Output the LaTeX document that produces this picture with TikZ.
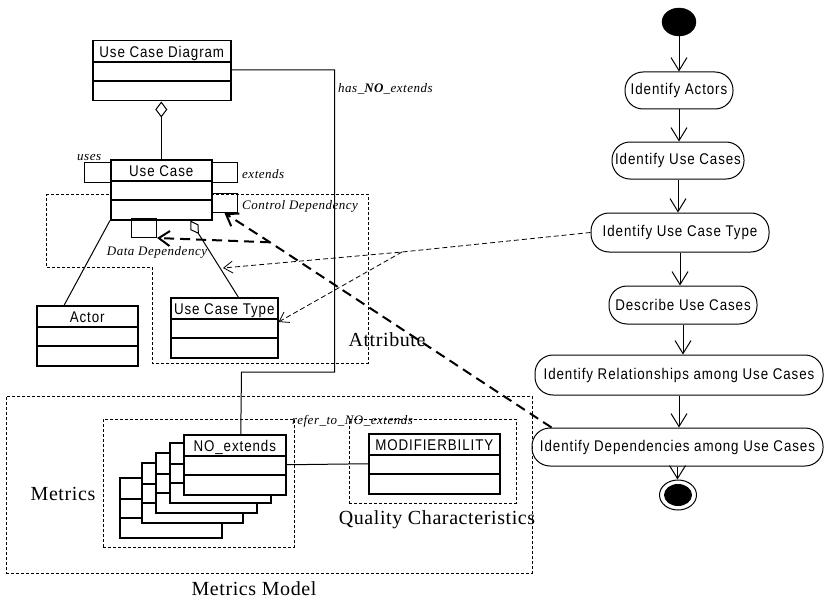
\documentclass[tikz,border=0pt]{standalone}
\usepackage{fontspec}
\setmainfont{Liberation Serif}
\newfontfamily\gothic[FakeStretch=0.86, LetterSpace=6]{Liberation Sans}
\newfontfamily\lblfont[LetterSpace=4]{Liberation Serif}
\newfontfamily\bigfont[LetterSpace=3]{Liberation Serif}
\usetikzlibrary{arrows.meta,shapes.geometric}

\tikzset{
  cls/.style={draw, line width=1.5pt, fill=white, rectangle, inner sep=0pt, anchor=north west},
  sep/.style={line width=1.2pt},
  cname/.style={font=\gothic\fontsize{15.5}{17}\selectfont, inner sep=0pt},
  lbl/.style={font=\lblfont\itshape\fontsize{13}{15}\selectfont, inner sep=0pt},
  big/.style={font=\bigfont\fontsize{20}{22}\selectfont, inner sep=0pt},
  region/.style={draw, dash pattern=on 3pt off 2pt, line width=0.8pt},
  regionbox/.style={region, rectangle, inner sep=0pt, anchor=north west},
  loopbox/.style={draw, line width=1pt, rectangle, inner sep=0pt, anchor=north west},
  act/.style={draw, line width=1pt, rectangle, rounded corners=18pt, minimum height=38pt,
              inner sep=0pt, font=\gothic\fontsize{15.5}{17}\selectfont},
  flow/.style={line width=1pt, -{Straight Barb[length=13pt,width=16pt]}},
  assoc/.style={line width=1pt},
  thinarrow/.style={line width=0.8pt, dash pattern=on 5pt off 3pt,
                    -{Straight Barb[length=9pt,width=12pt]}},
  thickarrow/.style={line width=2pt, dash pattern=on 10pt off 6pt,
                     -{Straight Barb[length=11pt,width=15pt]}},
}

% class box: name, left, top, width, class name
\newcommand\umlclass[5]{%
  \node[cls, minimum width=#4pt, minimum height=60pt] (#1) at (#2,#3) {};
  \draw[sep] ([yshift=-22pt]#1.north west) -- ([yshift=-22pt]#1.north east);
  \draw[sep] ([yshift=-41pt]#1.north west) -- ([yshift=-41pt]#1.north east);
  \node[cname, anchor=base] (#1-title) at ([yshift=-17.5pt]#1.north) {#5};
}

\begin{document}
\begin{tikzpicture}[x=1pt, y=-1pt]
\useasboundingbox (0,0) rectangle (824,599);

% ---------- dashed groupings ----------
\draw[region] (46,194) -- (368,194) -- (368,363) -- (152,363) -- (152,267) -- (46,267) -- cycle;
\node[regionbox, minimum width=526pt, minimum height=177pt] (mmodel) at (6,396) {};
\node[regionbox, minimum width=191pt, minimum height=128pt] (mgroup) at (103,419) {};
\node[regionbox, minimum width=167pt, minimum height=84pt] (qgroup) at (349,419) {};

\node[big] (attrlbl) at (387,340) {Attribute};
\node[big] (metlbl) at (63,494) {Metrics};
\node[big] (qlbl) at (437,520) {Quality Characteristics};
\node[big] (mmlbl) at (254,589) {Metrics Model};

% ---------- use case meta-model ----------
\umlclass{ucd}{92}{40}{138}{Use Case Diagram}
\umlclass{uc}{110}{159}{101}{Use Case}
\umlclass{actor}{36}{305}{101}{Actor}
\umlclass{uct}{170}{297}{107}{Use Case Type}

% self associations of Use Case
\node[loopbox, minimum width=26pt, minimum height=20pt] (uses) at (84,162) {};
\node[loopbox, minimum width=26pt, minimum height=20pt] (ext) at (211,162) {};
\node[loopbox, minimum width=26pt, minimum height=19pt] (ctrl) at (211,193) {};
\node[loopbox, minimum width=25pt, minimum height=19pt] (data) at (131,218) {};

\node[lbl, anchor=base west] (useslbl) at (77,160) {uses};
\node[lbl, anchor=west] (extlbl) at (242,174) {extends};
\node[lbl, anchor=west] (ctrllbl) at (242,206) {Control Dependency};
\node[lbl] (datalbl) at (157,252) {Data Dependency};

% associations
\draw[assoc, -{Diamond[open,length=16pt,width=12pt]}] (uc.north) -- (uc.north |- ucd.south);
\draw[assoc, -{Diamond[open,length=16pt,width=10pt]}] ([xshift=14pt]uct.north) -- ([xshift=29pt]uc.south);
\draw[assoc] (uc.south west) -- ([xshift=-23pt]actor.north);

% ---------- metrics model ----------
\umlclass{m4}{119}{477}{102}{}
\umlclass{m3}{141}{462}{101}{}
\umlclass{m2}{155}{452}{101}{}
\umlclass{m1}{169}{442}{101}{}
\umlclass{noext}{183}{434}{102}{NO\_extends}
\umlclass{modif}{368}{433}{131}{MODIFIERBILITY}

\draw[assoc] ([yshift=-30pt]ucd.north east) -- ++(103,0) -- ++(0,302) -- ++(-93,0)
  -- ([xshift=6pt]noext.north);
\node[lbl, anchor=west] (haslbl) at (338,89) {has\_\textbf{NO}\_extends};

\draw[assoc] (noext.east) -- (modif.west);
\node[lbl, anchor=base west] (referlbl) at (292,424) {refer\_to\_NO\_extends};

% ---------- activity flow ----------
\node[draw, fill=black, ellipse, minimum width=34pt, minimum height=28pt, inner sep=0pt] (start) at (679,22) {};
\node[act, minimum width=108pt, minimum height=37pt] (a1) at (679,90.5) {Identify Actors};
\node[act, minimum width=132pt, minimum height=37pt] (a2) at (678,160.5) {Identify Use Cases};
\node[act, minimum width=178pt, minimum height=39pt] (a3) at (680,232.5) {Identify Use Case Type};
\node[act, minimum width=148pt] (a4) at (683,305) {Describe Use Cases};
\node[act, minimum width=288pt, minimum height=40pt] (a5) at (679,375) {Identify Relationships among Use Cases};
\node[act, minimum width=291pt] (a6) at (677.5,447) {Identify Dependencies among Use Cases};
\node[draw, line width=1pt, ellipse, minimum width=37pt, minimum height=30pt, inner sep=0pt] (stop) at (678,495) {};
\node[fill=black, ellipse, minimum width=28pt, minimum height=22pt, inner sep=0pt] (stopin) at (678,495) {};

\draw[flow] (start.south) -- (start.south |- a1.north);
\draw[flow] (a1.south) -- (a1.south |- a2.north);
\draw[flow] (a2.south) -- (a2.south |- a3.north);
\draw[flow] (a3.south) -- (a3.south |- a4.north);
\draw[flow] (a4.south) -- (a4.south |- a5.north);
\draw[flow] (a5.south) -- (a5.south |- a6.north);
\draw[flow] (a6.south) -- (a6.south |- stop.north);

% ---------- traces from activities to the model ----------
\coordinate (tfork) at (402,252);
\coordinate (attr) at (223,268);
\draw[thinarrow] (a3.west) -- (tfork) -- (attr);
\draw[thinarrow] (tfork) -- ([yshift=-25pt]uct.north east);

\coordinate (dfork) at (270,242.3);
\draw[thickarrow] ([xshift=20pt]a6.north west) -- (dfork) -- (ctrl.south);
\draw[thickarrow] (dfork) -- (data.south east);
\end{tikzpicture}
\end{document}
